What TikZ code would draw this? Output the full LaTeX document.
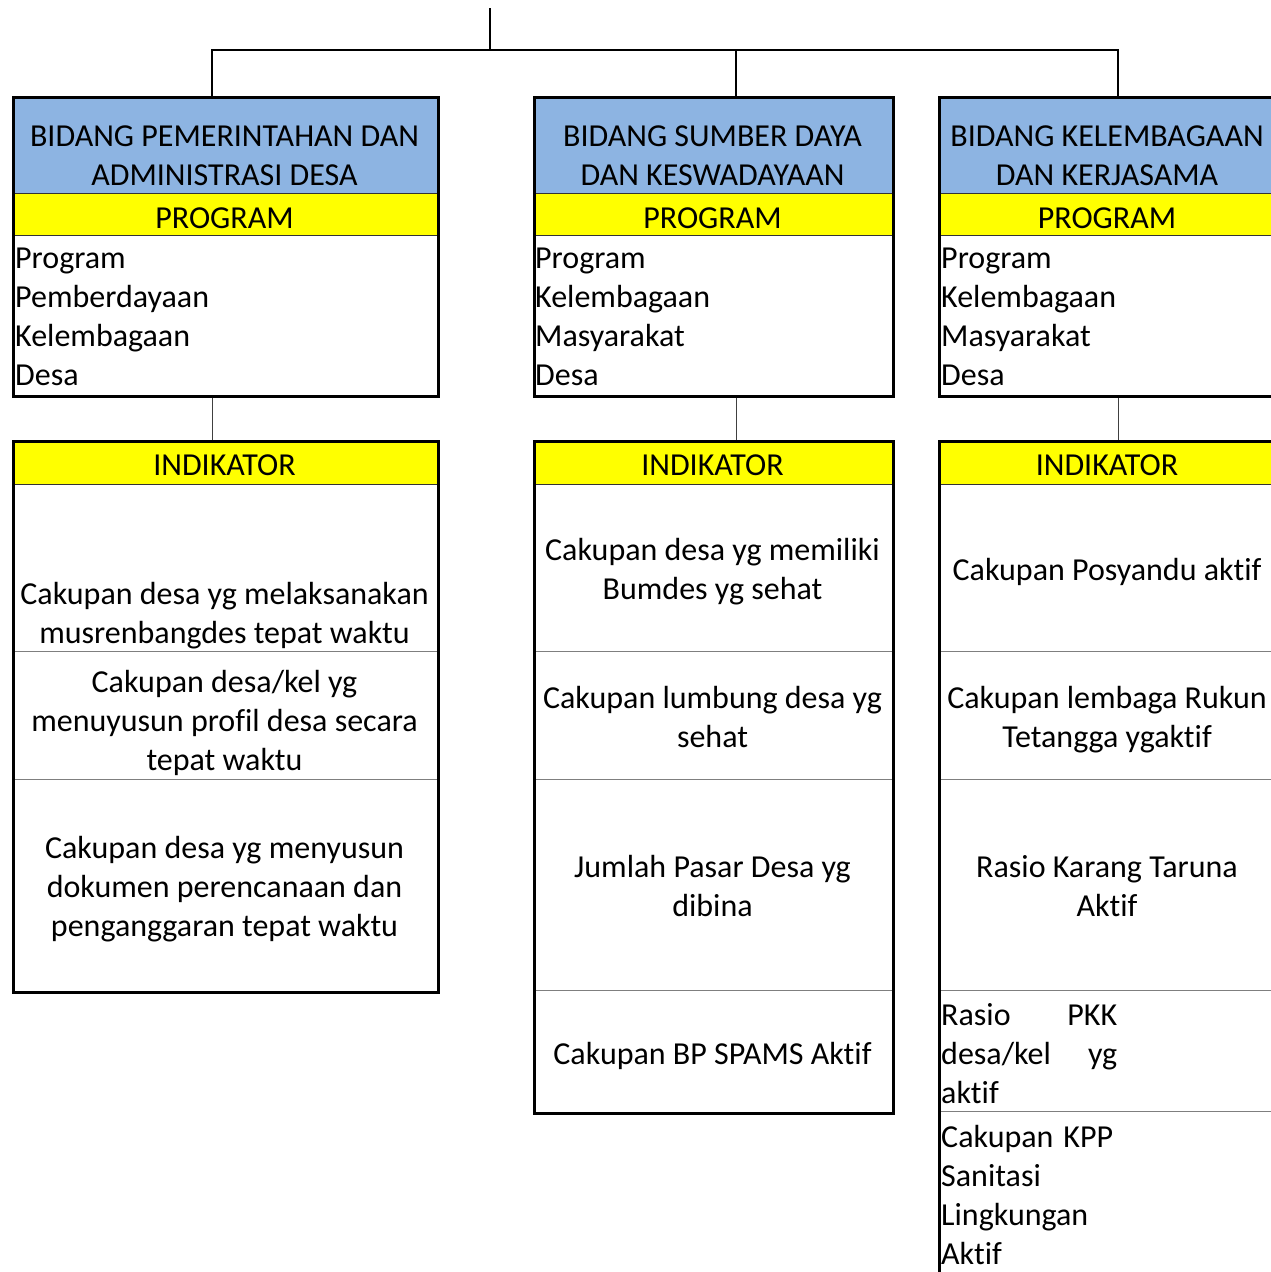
\documentclass[tikz,border=0pt]{standalone}
\usepackage{fontspec}
\setmainfont[Ligatures=CommonOff]{Carlito}
\definecolor{hdrblue}{HTML}{8DB4E2}
\definecolor{yel}{HTML}{FFFF00}
\definecolor{divgray}{HTML}{7F7F7F}
\newcommand\mystrut{\rule{0pt}{30pt}}
\begin{document}
\begin{tikzpicture}[x=1pt,y=-1pt,
  txt/.style={inner sep=0pt, font=\fontsize{32}{39}\selectfont, align=center, anchor=north},
  ltxt/.style={inner sep=0pt, font=\fontsize{32}{39}\selectfont, align=left, anchor=north west},
  outerbox/.style={draw=black, line width=2.5pt, inner sep=0pt, anchor=north west},
  divider/.style={draw=divgray, line width=1pt},
  cellline/.style={draw=black!80, line width=1pt},
  busline/.style={draw=black, line width=2.5pt},
  linkline/.style={draw=black!75, line width=1pt}]
\useasboundingbox (0,0) rectangle (1270,1272);

% fills
\foreach \L/\R in {12/437, 533/892, 938/1276}{
  \fill[hdrblue] (\L,96) rectangle (\R,193);
  \fill[yel] (\L,193) rectangle (\R,235);
  \fill[yel] (\L,440) rectangle (\R,484);
  \draw[cellline] (\L,193) -- (\R,193);
  \draw[cellline] (\L,235) -- (\R,235);
  \draw[cellline] (\L,484) -- (\R,484);
  \draw[divider] (\L,651) -- (\R,651);
  \draw[divider] (\L,779) -- (\R,779);
}
\draw[divider] (533,990) -- (892,990);
\draw[divider] (938,990) -- (1276,990);
\draw[divider] (938,1111) -- (1276,1111);

% outer boxes
\node[outerbox, minimum width=425pt, minimum height=299pt] (p1) at (12,96) {};
\node[outerbox, minimum width=359pt, minimum height=299pt] (p2) at (533,96) {};
\node[outerbox, minimum width=338pt, minimum height=299pt] (p3) at (938,96) {};
\node[outerbox, minimum width=425pt, minimum height=551pt] (i1) at (12,440) {};
\node[outerbox, minimum width=359pt, minimum height=672pt] (i2) at (533,440) {};
\node[outerbox, minimum width=338pt, minimum height=870pt] (i3) at (938,440) {};

% connectors
\coordinate (top) at (490,8);
\coordinate (bus) at (490,50);
\coordinate (b1) at (212,50);
\coordinate (b2) at (736,50);
\coordinate (b3) at (1118,50);
\draw[busline] (top) -- (bus);
\draw[busline] (b1 |- p1.north) -- (b1) -- (b3) -- (b3 |- p3.north);
\draw[busline] (b2) -- (b2 |- p2.north);
\draw[linkline] (b1 |- p1.south) -- (b1 |- i1.north);
\draw[linkline] (b2 |- p2.south) -- (b2 |- i2.north);
\draw[linkline] (b3 |- p3.south) -- (b3 |- i3.north);

% column 1 texts
\node[txt] (h1) at (224.5,116) {\mystrut BIDANG PEMERINTAHAN DAN\\ADMINISTRASI DESA};
\node[txt] (g1) at (224.5,198) {\mystrut PROGRAM};
\node[ltxt] (pt1) at (15,238) {\mystrut Program\\Pemberdayaan\\Kelembagaan\\Desa};
\node[txt] (k1) at (224.5,445) {\mystrut INDIKATOR};
\node[txt] (a1) at (224.5,574) {\mystrut Cakupan desa yg melaksanakan\\musrenbangdes tepat waktu};
\node[txt] (a2) at (224.5,662) {\mystrut Cakupan desa/kel yg\\menuyusun profil desa secara\\tepat waktu};
\node[txt] (a3) at (224.5,828) {\mystrut Cakupan desa yg menyusun\\dokumen perencanaan dan\\penganggaran tepat waktu};

% column 2 texts
\node[txt] (h2) at (712.5,116) {\mystrut BIDANG SUMBER DAYA\\DAN KESWADAYAAN};
\node[txt] (g2) at (712.5,198) {\mystrut PROGRAM};
\node[ltxt] (pt2) at (535,238) {\mystrut Program\\Kelembagaan\\Masyarakat\\Desa};
\node[txt] (k2) at (712.5,445) {\mystrut INDIKATOR};
\node[txt] (s1) at (712.5,530) {\mystrut Cakupan desa yg memiliki\\Bumdes yg sehat};
\node[txt] (s2) at (712.5,678) {\mystrut Cakupan lumbung desa yg\\sehat};
\node[txt] (s3) at (712.5,847) {\mystrut Jumlah Pasar Desa yg\\dibina};
\node[txt] (s4) at (712.5,1034) {\mystrut Cakupan BP SPAMS Aktif};

% column 3 texts
\node[txt] (h3) at (1107,116) {\mystrut BIDANG KELEMBAGAAN\\DAN KERJASAMA};
\node[txt] (g3) at (1107,198) {\mystrut PROGRAM};
\node[ltxt] (pt3) at (941,238) {\mystrut Program\\Kelembagaan\\Masyarakat\\Desa};
\node[txt] (k3) at (1107,445) {\mystrut INDIKATOR};
\node[txt] (c1) at (1107,550) {\mystrut Cakupan Posyandu aktif};
\node[txt] (c2) at (1107,678) {\mystrut Cakupan lembaga Rukun\\Tetangga ygaktif};
\node[txt] (c3) at (1107,847) {\mystrut Rasio Karang Taruna\\Aktif};
\node[ltxt] (c4) at (941,995) {\mystrut\makebox[176pt][l]{Rasio\hfill PKK}\\\makebox[176pt][l]{desa/kel\hfill yg}\\aktif};
\node[ltxt] (c5) at (941,1117) {\mystrut\makebox[172pt][l]{Cakupan\hfill KPP}\\Sanitasi\\Lingkungan\\Aktif};
\end{tikzpicture}
\end{document}
